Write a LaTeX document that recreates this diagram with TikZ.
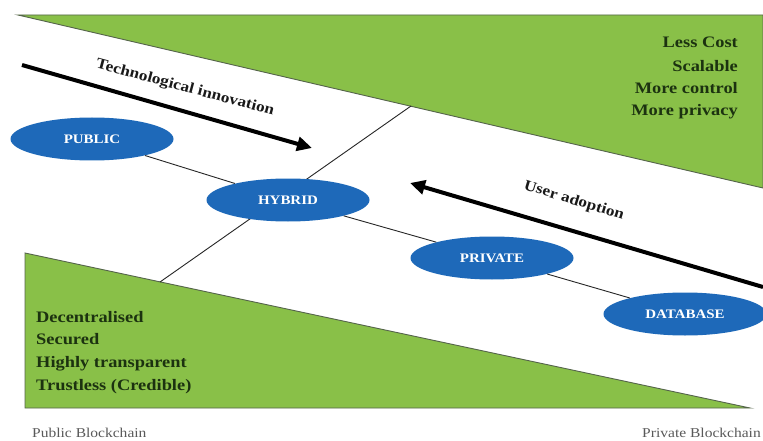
\documentclass[tikz,border=0pt]{standalone}
\usepackage{fontspec}
\setmainfont{Liberation Serif}[FakeStretch=1.15]
\usetikzlibrary{shapes.geometric,arrows.meta}
\definecolor{leaf}{RGB}{137,192,72}
\definecolor{leafedge}{RGB}{85,100,75}
\definecolor{darkleaf}{RGB}{28,50,16}
\definecolor{chainblue}{RGB}{30,105,185}
\tikzset{
  zone/.style={fill=leaf, draw=leafedge, line width=0.9pt},
  chainnode/.style={ellipse, fill=chainblue, draw=none, minimum width=163pt, minimum height=43pt, inner sep=0pt, text=white, font=\fontsize{13}{15}\selectfont\bfseries},
  trait/.style={text=darkleaf, font=\fontsize{16}{18}\selectfont\bfseries, inner sep=0pt},
  trend/.style={line width=4pt, -{Triangle[length=15pt,width=14pt]}},
  trendlabel/.style={text=black!90, font=\fontsize{15}{17}\selectfont\bfseries, inner sep=0pt},
  axislabel/.style={text=black!65, font=\fontsize{13.5}{15}\selectfont, inner sep=0pt},
  link/.style={draw=black!85, line width=0.9pt},
}
\begin{document}
\begin{tikzpicture}[x=1pt,y=-1pt]
\useasboundingbox (0,0) rectangle (763,441);
\clip (0,0) rectangle (763,441);
\fill[white] (0,0) rectangle (763,441);
% green zones
\draw[zone] (18,15) -- (763,15) -- (763,188) -- cycle;
\draw[zone] (25,253) -- (750,408) -- (25,408) -- cycle;
% divider
\coordinate (cutTop) at (411,106);
\coordinate (cutBot) at (160,282);
\draw[link] (cutBot) -- (cutTop);
% chain nodes
\node[chainnode] (pub) at (92,139) {PUBLIC};
\node[chainnode] (hyb) at (288,200) {HYBRID};
\node[chainnode] (priv) at (492,258) {PRIVATE};
\node[chainnode] (db) at (685,314) {DATABASE};
\draw[link] (pub) -- (hyb);
\draw[link] (hyb) -- (priv);
\draw[link] (priv) -- (db);
% trend arrows
\coordinate (tiStart) at (22,65);
\coordinate (tiEnd) at (312,148);
\draw[trend] (tiStart) -- (tiEnd);
\node[trendlabel, rotate=-15] (techlabel) at (185,88) {Technological innovation};
\coordinate (uaStart) at (763,287);
\coordinate (uaEnd) at (410,183);
\draw[trend] (uaStart) -- (uaEnd);
\node[trendlabel, rotate=-17] (userlabel) at (574,201) {User adoption};
% traits
\node[trait, anchor=base east] (t1) at (738,48) {Less Cost};
\node[trait, anchor=base east] (t2) at (738,72) {Scalable};
\node[trait, anchor=base east] (t3) at (738,94) {More control};
\node[trait, anchor=base east] (t4) at (738,116) {More privacy};
\node[trait, anchor=base west] (b1) at (36,322) {Decentralised};
\node[trait, anchor=base west] (b2) at (36,344) {Secured};
\node[trait, anchor=base west] (b3) at (36,367) {Highly transparent};
\node[trait, anchor=base west] (b4) at (36,390) {Trustless (Credible)};
% axis labels
\node[axislabel, anchor=base west] (pubchain) at (32,437) {Public Blockchain};
\node[axislabel, anchor=base east] (privchain) at (761,437) {Private Blockchain};
\end{tikzpicture}
\end{document}
